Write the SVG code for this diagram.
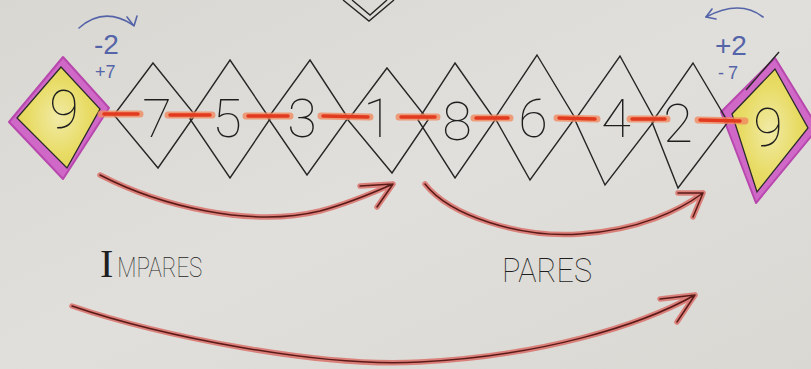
<svg xmlns="http://www.w3.org/2000/svg" width="811" height="369" viewBox="0 0 811 369">
<defs>
<linearGradient id="paper" x1="0" y1="0" x2="1" y2="1">
<stop offset="0" stop-color="#d8d7d2"/>
<stop offset="0.5" stop-color="#e0dfdb"/>
<stop offset="1" stop-color="#d9d8d3"/>
</linearGradient>
<radialGradient id="yel" cx="0.5" cy="0.5" r="0.6">
<stop offset="0" stop-color="#f1eaa6"/>
<stop offset="0.6" stop-color="#e8dc66"/>
<stop offset="1" stop-color="#e2d352"/>
</radialGradient>
</defs>
<style>
.dia{fill:none;stroke:#262626;stroke-width:1.4;stroke-linejoin:miter}
.num{font-family:Roboto,"Liberation Sans",sans-serif;font-weight:100;font-size:54px;fill:#1e1e1e;text-anchor:middle}
.pink{fill:#cf68c6;stroke:#b848ae;stroke-width:2;stroke-linejoin:round}
.inner{fill:url(#yel);stroke:#2a2a2a;stroke-width:1.3}
.dash{fill:none;stroke:#f08a60;stroke-width:7;stroke-linecap:round;opacity:0.8}
.dashc{fill:none;stroke:#e23a1e;stroke-width:3.5;stroke-linecap:round}
.glow{fill:none;stroke:#d9605a;stroke-width:5.5;stroke-linecap:round;stroke-linejoin:round;opacity:0.75}
.core{fill:none;stroke:#5a1a18;stroke-width:1.5;stroke-linecap:round;stroke-linejoin:round}
.blue{fill:none;stroke:#5564a8;stroke-width:1.6;stroke-linecap:round;stroke-linejoin:round}
.btxt{font-family:"Liberation Sans",sans-serif;fill:#5564a8}
.lbl{font-family:Roboto,"Liberation Sans",sans-serif;font-weight:100;fill:#1e1e1e}
</style>
<rect width="811" height="369" fill="url(#paper)"/>

<g id="top-partial">
<path class="dia" d="M343,0 L369,21 L394,0"/>
<path class="dia" d="M352,0 L370,15 L387,0"/>
</g>

<g id="end-left">
<polygon class="pink" points="63,57 109,108 63,179 9,122"/>
<polygon class="inner" points="61,67 100,109 67,168 17,118"/>
<text class="num" x="64" y="128" font-size="46">9</text>
</g>

<g id="end-right">
<polygon class="pink" points="775,58 818,128 756,203 721,112"/>
<polygon class="inner" points="775,69 808,128 757,192 732,114"/>
<path class="dia" d="M779,52 L746,90"/>
<text class="num" x="768" y="146" font-size="52">9</text>
</g>

<g id="chain">
<g id="n7"><polygon class="dia" points="153,63 195,115 158,168 114,115"/><text class="num" x="157" y="137">7</text></g>
<g id="n5"><polygon class="dia" points="230,60 270,119 230,178 190,119"/><text class="num" x="227" y="137">5</text></g>
<g id="n3"><polygon class="dia" points="310,60 348,118 307,175 268,118"/><text class="num" x="302" y="137">3</text></g>
<g id="n1"><polygon class="dia" points="387,68 428,120 392,173 348,120"/><text class="num" x="378" y="137">1</text></g>
<g id="n8"><polygon class="dia" points="455,63 495,120 455,178 418,120"/><text class="num" x="457" y="140">8</text></g>
<g id="n6"><polygon class="dia" points="537,55 575,118 530,180 495,118"/><text class="num" x="533" y="137">6</text></g>
<g id="n4"><polygon class="dia" points="620,56 655,120 605,185 575,120"/><text class="num" x="616" y="137">4</text></g>
<g id="n2"><polygon class="dia" points="693,63 728,122 678,188 652,122"/><text class="num" x="678" y="142">2</text></g>
</g>

<g id="dashes">
<path class="dash" d="M101,114 L140,114 M168,115 L212,115 M246,116 L290,116 M321,116 L370,117 M399,117 L437,117 M474,118 L510,118 M557,118 L597,119 M630,119 L667,119 M698,120 L745,121"/>
<path class="dashc" d="M104,114 L138,114 M170,115 L210,115 M248,116 L288,116 M323,116 L368,117 M401,117 L435,117 M476,118 L508,118 M559,118 L595,119 M632,119 L665,119 M700,120 L740,121"/>
</g>

<g id="annot-left">
<path class="blue" d="M79,28 Q104,6 133,25"/>
<path class="blue" d="M127,17 L134,26 L137,16"/>
<text class="btxt" x="94" y="54" font-size="28">-2</text>
<text class="btxt" x="95" y="78" font-size="18">+7</text>
</g>

<g id="annot-right">
<path class="blue" d="M763,17 Q740,-1 706,17"/>
<path class="blue" d="M712,9 L706,17 L716,19"/>
<text class="btxt" x="715" y="55" font-size="28">+2</text>
<text class="btxt" x="718" y="79" font-size="18" letter-spacing="4">-7</text>
</g>

<g id="connectors">
<g id="arrow-impares">
<path class="glow" d="M100,175 C160,206 250,228 320,211 C350,203 375,192 393,184 M360,186 L393,184 L377,207"/>
<path class="core" d="M100,175 C160,206 250,228 320,211 C350,203 375,192 393,184 M360,186 L393,184 L377,207"/>
</g>
<g id="arrow-pares">
<path class="glow" d="M425,184 C450,216 520,238 580,234 C640,230 680,210 703,193 M678,193 L703,193 L693,217"/>
<path class="core" d="M425,184 C450,216 520,238 580,234 C640,230 680,210 703,193 M678,193 L703,193 L693,217"/>
</g>
<g id="arrow-all">
<path class="glow" d="M72,306 C160,336 320,368 420,362 C540,356 640,326 695,295 M660,299 L695,295 L677,322"/>
<path class="core" d="M72,306 C160,336 320,368 420,362 C540,356 640,326 695,295 M660,299 L695,295 L677,322"/>
</g>
</g>

<g id="labels">
<text class="lbl" x="100" y="277"><tspan font-family="Liberation Serif" font-weight="normal" font-size="40">I</tspan><tspan font-size="27" dx="4" textLength="85" lengthAdjust="spacingAndGlyphs">MPARES</tspan></text>
<text class="lbl" x="502" y="282" font-size="33" textLength="90" lengthAdjust="spacingAndGlyphs">PARES</text>
</g>
</svg>
